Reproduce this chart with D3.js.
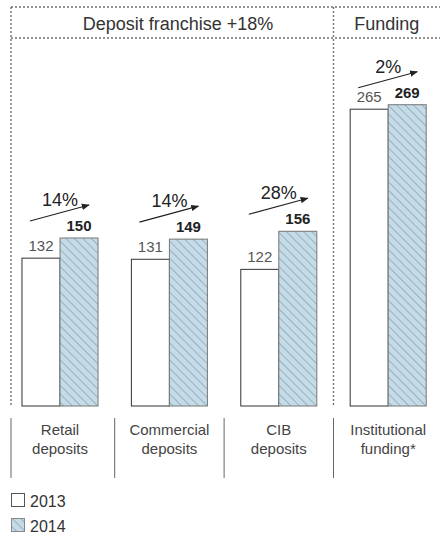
<!DOCTYPE html>
<html>
<head>
<meta charset="utf-8">
<script src="https://cdn.jsdelivr.net/npm/d3@7"></script>
<style>
  html, body { margin: 0; padding: 0; background: #fff; }
  svg { display: block; font-family: "Liberation Sans", Arial, sans-serif; }
</style>
</head>
<body>
<svg id="chart" width="440" height="542"></svg>
<script>
// Deposit and funding volumes, 2013 vs 2014
const categories = ["Retail", "Commercial", "CIB", "Institutional"];
const labelLines = [["Retail", "deposits"], ["Commercial", "deposits"], ["CIB", "deposits"], ["Institutional", "funding*"]];
const years = ["2013", "2014"];
const values2013 = [132, 131, 122, 265];
const values2014 = [150, 149, 156, 269];
const growth = ["14%", "14%", "28%", "2%"];
const sections = [
  { title: "Deposit franchise +18%", from: 0, to: 2 },
  { title: "Funding", from: 3, to: 3 }
];

const svg = d3.select("#chart");
const W = 440;

const boxLeft = 11, boxTop = 7, headerBottom = 38, baseY = 406;

const x = d3.scaleBand().domain(categories)
  .range([5.3, 442.9]).paddingInner(0.305).paddingOuter(0.1525);
const xYear = d3.scaleBand().domain(years).range([0, x.bandwidth()]);
const y = d3.scaleLinear().domain([0, 300]).range([baseY, baseY - 336]);

// hatch pattern for 2014 bars (stripes running down to the right)
const defs = svg.append("defs");
const pat = defs.append("pattern")
  .attr("id", "hatch").attr("patternUnits", "userSpaceOnUse")
  .attr("width", 6).attr("height", 6)
  .attr("patternTransform", "rotate(-45)");
pat.append("rect").attr("width", 6).attr("height", 6).attr("fill", "#c6dbe5");
pat.append("line").attr("x1", 0).attr("y1", 0).attr("x2", 0).attr("y2", 6)
  .attr("stroke", "#8fb4c8").attr("stroke-width", 2);

const dash = { stroke: "#707070", "stroke-width": 1.4, "stroke-dasharray": "2,2" };
function dashed(sel) { Object.entries(dash).forEach(([k, v]) => sel.attr(k, v)); return sel; }

// section frame
const splitX = (x(categories[2]) + x.bandwidth() + x(categories[3])) / 2;
dashed(svg.append("line").attr("x1", boxLeft).attr("x2", W).attr("y1", boxTop).attr("y2", boxTop));
dashed(svg.append("line").attr("x1", boxLeft).attr("x2", W).attr("y1", headerBottom).attr("y2", headerBottom));
dashed(svg.append("line").attr("x1", boxLeft).attr("x2", boxLeft).attr("y1", boxTop).attr("y2", baseY));
dashed(svg.append("line").attr("x1", splitX).attr("x2", splitX).attr("y1", boxTop).attr("y2", baseY));

// section titles
const secCenters = [178, (splitX + W) / 2];
sections.forEach((s, i) => {
  svg.append("text").attr("x", secCenters[i]).attr("y", 30)
    .attr("text-anchor", "middle").attr("font-size", 18).attr("fill", "#333")
    .text(s.title);
});

const data = categories.map((c, i) => ({
  cat: c, v: [values2013[i], values2014[i]], g: growth[i], lines: labelLines[i]
}));

const groups = svg.selectAll("g.grp").data(data).join("g")
  .attr("class", "grp").attr("transform", d => `translate(${x(d.cat)},0)`);

// bars
groups.selectAll("rect").data(d => d.v.map((v, j) => ({ year: years[j], v })))
  .join("rect")
  .attr("x", d => xYear(d.year))
  .attr("y", d => y(d.v))
  .attr("width", xYear.bandwidth())
  .attr("height", d => baseY - y(d.v))
  .attr("fill", d => d.year === "2013" ? "#fff" : "url(#hatch)")
  .attr("stroke", d => d.year === "2013" ? "#333" : "#777")
  .attr("stroke-width", 1);

// value labels
groups.selectAll("text.val").data(d => d.v.map((v, j) => ({ year: years[j], v })))
  .join("text").attr("class", "val")
  .attr("x", d => xYear(d.year) + xYear.bandwidth() / 2)
  .attr("y", d => y(d.v) - 7)
  .attr("text-anchor", "middle").attr("font-size", 15)
  .attr("font-weight", d => d.year === "2014" ? "bold" : "normal")
  .attr("fill", d => d.year === "2014" ? "#222" : "#555")
  .text(d => d.v);

// growth arrows
defs.append("marker").attr("id", "arrowhead")
  .attr("viewBox", "0 0 10 10").attr("refX", 9).attr("refY", 5)
  .attr("markerWidth", 8).attr("markerHeight", 8).attr("orient", "auto")
  .attr("markerUnits", "userSpaceOnUse")
  .append("path").attr("d", "M0,1 L10,5 L0,9 Z").attr("fill", "#222");

groups.append("line")
  .attr("x1", 8).attr("x2", x.bandwidth() - 9)
  .attr("y1", d => y(d.v[1]) - 17).attr("y2", d => y(d.v[1]) - 33)
  .attr("stroke", "#222").attr("stroke-width", 1.1)
  .attr("marker-end", "url(#arrowhead)");

groups.append("text")
  .attr("x", x.bandwidth() / 2).attr("y", d => y(d.v[1]) - 32)
  .attr("text-anchor", "middle").attr("font-size", 18).attr("fill", "#222")
  .text(d => d.g);

// category labels with separators
const gap = x.step() - x.bandwidth();
groups.append("line")
  .attr("x1", d => Math.max(boxLeft, x(d.cat) - gap / 2) - x(d.cat))
  .attr("x2", d => Math.max(boxLeft, x(d.cat) - gap / 2) - x(d.cat))
  .attr("y1", 418).attr("y2", 478)
  .attr("stroke", "#666").attr("stroke-width", 1);

groups.append("text")
  .attr("text-anchor", "middle").attr("font-size", 15).attr("fill", "#444")
  .selectAll("tspan").data(d => d.lines).join("tspan")
  .attr("x", x.bandwidth() / 2)
  .attr("y", (d, i) => 435 + i * 19)
  .text(d => d);

// legend
const legend = svg.append("g").attr("transform", "translate(11,493)");
years.forEach((yr, i) => {
  const g = legend.append("g").attr("transform", `translate(0,${i * 25})`);
  g.append("rect").attr("x", 0.5).attr("y", 0.5).attr("width", 13).attr("height", 13)
    .attr("fill", i === 0 ? "#fff" : "url(#hatch)")
    .attr("stroke", i === 0 ? "#555" : "#888");
  g.append("text").attr("x", 19).attr("y", 13.5)
    .attr("font-size", 16).attr("fill", "#333").text(yr);
});
</script>
</body>
</html>
